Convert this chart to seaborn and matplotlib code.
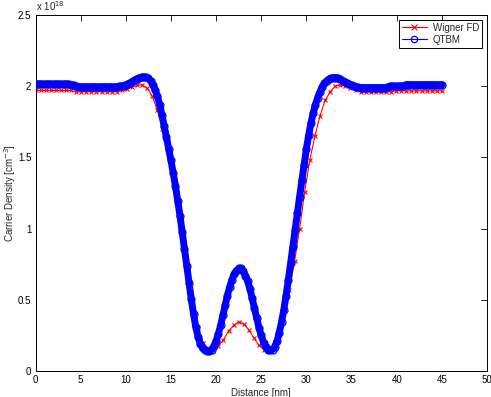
import numpy as np
import pandas as pd
import matplotlib
matplotlib.use("Agg")
import matplotlib.pyplot as plt
from matplotlib.lines import Line2D
import seaborn as sns

# ---- data (carrier density in units of 1e18 cm^-3) ----
wigner_x = np.linspace(0, 45, 81)
wigner_fd = [
    1.97, 1.97, 1.97, 1.97, 1.97, 1.97, 1.97, 1.97,
    1.96, 1.96, 1.96, 1.96, 1.96, 1.96, 1.96, 1.96,
    1.962, 1.97, 1.98, 1.995, 2.005, 2.01, 1.985, 1.93,
    1.83, 1.70, 1.56, 1.37, 1.13, 0.89, 0.64, 0.45,
    0.30, 0.20, 0.155, 0.15, 0.175, 0.22, 0.28, 0.32,
    0.345, 0.33, 0.29, 0.23, 0.18, 0.15, 0.145, 0.18,
    0.28, 0.42, 0.57, 0.77, 1.00, 1.26, 1.48, 1.65,
    1.79, 1.90, 1.96, 2.00, 2.01, 2.00, 1.985, 1.97,
    1.96, 1.96, 1.96, 1.96, 1.96, 1.96, 1.96,
    1.967, 1.967, 1.967, 1.967, 1.967, 1.967, 1.967, 1.967, 1.967, 1.967,
]

qtbm_x = np.linspace(0, 45, 181)
qtbm = [
    2.015, 2.015, 2.015, 2.015, 2.015, 2.015, 2.015, 2.015, 2.015, 2.015,
    2.015, 2.015, 2.015, 2.015, 2.015, 2.013, 2.01, 2.005, 2.0, 1.997,
    1.995, 1.995, 1.995, 1.995, 1.995, 1.995, 1.995, 1.995, 1.995, 1.995,
    1.995, 1.995, 1.995, 1.995, 1.995, 1.995,
    1.996, 1.998, 2.0, 2.004, 2.01, 2.017, 2.025, 2.035, 2.045, 2.053,
    2.06, 2.064, 2.065, 2.062, 2.055, 2.037, 2.01, 1.975, 1.93, 1.87,
    1.80, 1.72, 1.64, 1.56, 1.48, 1.39, 1.30, 1.195, 1.09, 0.975,
    0.86, 0.74, 0.62, 0.505, 0.40, 0.31, 0.24, 0.19, 0.16, 0.145,
    0.14, 0.14, 0.15, 0.175, 0.21, 0.26, 0.32, 0.39, 0.46, 0.53,
    0.59, 0.64, 0.68, 0.705, 0.72, 0.72, 0.70, 0.67, 0.63, 0.575,
    0.51, 0.44, 0.37, 0.305, 0.25, 0.20, 0.17, 0.15, 0.145, 0.15,
    0.17, 0.21, 0.27, 0.345, 0.43, 0.53, 0.64, 0.755, 0.87, 0.99,
    1.11, 1.225, 1.34, 1.45, 1.56, 1.655, 1.74, 1.81, 1.87, 1.92,
    1.96, 1.995, 2.02, 2.037, 2.05, 2.057, 2.06, 2.06, 2.055, 2.048,
    2.04, 2.03, 2.02, 2.012, 2.005, 2.0, 1.995, 1.992,
    1.99, 1.99, 1.99, 1.99, 1.99, 1.99, 1.99, 1.99, 1.99, 1.99, 1.99, 1.99,
    1.995,
    2.0, 2.0, 2.0, 2.0, 2.0, 2.0, 2.0,
    2.01, 2.01, 2.01, 2.01, 2.01, 2.01, 2.01, 2.01, 2.01, 2.01,
    2.01, 2.01, 2.01, 2.01, 2.01, 2.01, 2.01,
]

series_names = ["Wigner FD", "QTBM"]
x_ticks = [0, 5, 10, 15, 20, 25, 30, 35, 40, 45, 50]
y_ticks = [0, 0.5, 1, 1.5, 2, 2.5]
y_tick_labels = ["0", "0.5", "1", "1.5", "2", "2.5"]

df_w = pd.DataFrame({"x": wigner_x, "y": wigner_fd})
df_q = pd.DataFrame({"x": qtbm_x, "y": qtbm})

# ---- figure ----
sns.set_style("white")
plt.rcParams["font.family"] = ["Liberation Sans", "DejaVu Sans"]
plt.rcParams["font.size"] = 7

fig = plt.figure(figsize=(4.91, 3.97), dpi=100)
ax = fig.add_axes([35.5 / 491, 26 / 397, (487 - 35.5) / 491, (371 - 15) / 397])

red = (1, 0, 0)
blue = (0, 0, 1)

sns.lineplot(data=df_w, x="x", y="y", ax=ax, color=red, linewidth=0.8,
             marker="x", markersize=3.5, markeredgewidth=0.8,
             markeredgecolor=red, zorder=2)
sns.lineplot(data=df_q, x="x", y="y", ax=ax, color=blue, linewidth=5.0,
             marker="o", markersize=5.0, markeredgewidth=0.9,
             markerfacecolor="none", markeredgecolor=blue, zorder=3)

ax.set_xlim(0, 50)
ax.set_ylim(0, 2.5)
ax.set_xticks(x_ticks)
ax.set_xticklabels([str(t) for t in x_ticks])
ax.set_yticks(y_ticks)
ax.set_yticklabels(y_tick_labels)
ax.tick_params(direction="in", length=4, width=0.6, top=True, right=True,
               labelsize=7, pad=3, colors="black")
for s in ax.spines.values():
    s.set_visible(True)
    s.set_linewidth(0.7)
    s.set_color("black")

ax.set_xlabel("Distance [nm]", fontsize=7, labelpad=2)
ax.set_ylabel("Carrier Density [cm$^{-3}$]", fontsize=7)
ax.yaxis.set_label_coords((18.5 - 35.5) / 451.5, 0.5)

fig.text(35.5 / 491, 1 - 11 / 397, "x 10$^{18}$", fontsize=7, ha="left", va="baseline")

handles = [
    Line2D([0], [0], color=red, linewidth=0.8, marker="x", markersize=4, markeredgewidth=0.8),
    Line2D([0], [0], color=blue, linewidth=0.8, marker="o", markersize=4.5,
           markerfacecolor="none", markeredgewidth=0.9),
]
leg = ax.legend(handles, series_names, loc="upper right", fontsize=7,
                frameon=True, fancybox=False, framealpha=1, edgecolor="black",
                borderaxespad=0.5, handlelength=2.6, borderpad=0.3,
                labelspacing=0.2, handletextpad=0.6)
leg.get_frame().set_linewidth(0.7)

fig.savefig("out.png", dpi=100)
